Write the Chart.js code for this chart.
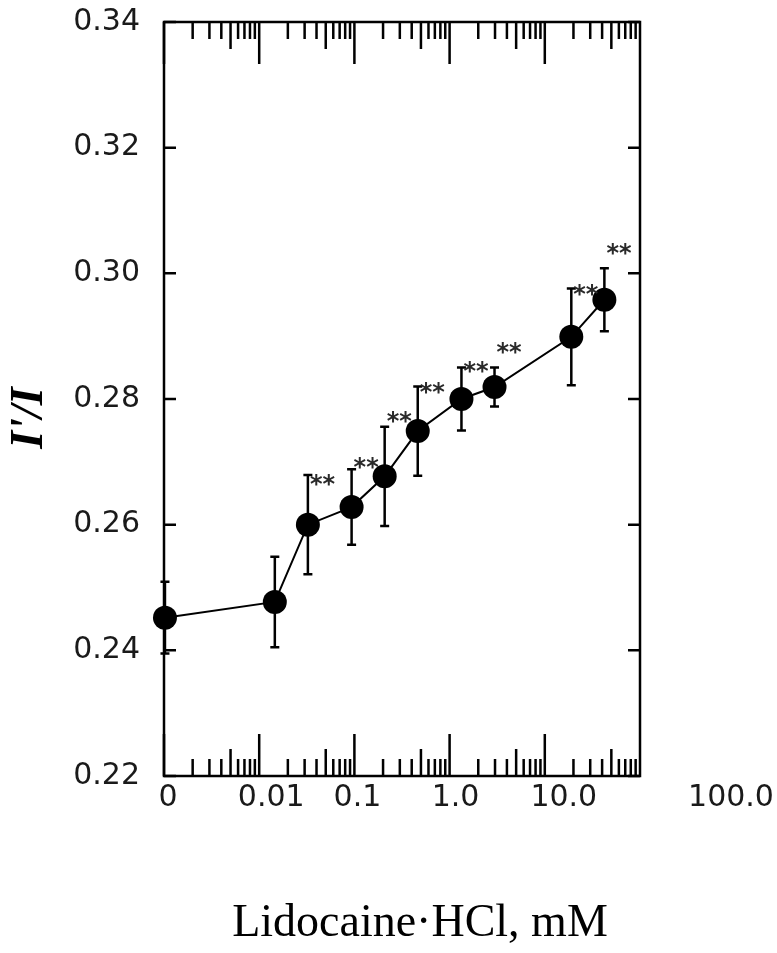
<!DOCTYPE html>
<html>
<head>
<meta charset="utf-8">
<script src="https://cdn.jsdelivr.net/npm/chart.js@4"></script>
<style>
  html, body { margin: 0; padding: 0; background: #fff; }
</style>
</head>
<body>
<canvas id="canvas" width="777" height="953"></canvas>
<script>
"use strict";

// lidocaine concentrations (mM), 0 = control
const conc = [0, 0.01, 0.02, 0.05, 0.1, 0.2, 0.5, 1.0, 5.0, 10.0];
// I'/I ratio (mean) and error
const ratio = [0.2452, 0.2477, 0.2600, 0.2628, 0.2677, 0.2749, 0.2800, 0.2819, 0.2899, 0.2958];
const sd = [0.0057, 0.0072, 0.0079, 0.0060, 0.0079, 0.0071, 0.0050, 0.0031, 0.0077, 0.0050];
// significance marks and the level they sit at
const marks = ['', '', '**', '**', '**', '**', '**', '**', '**', '**'];
const markLevel = [null, null, 0.2672, 0.2698, 0.2771, 0.2818, 0.2851, 0.2881, 0.2974, 0.3039];

// axis ticks
const yTicks = [0.22, 0.24, 0.26, 0.28, 0.30, 0.32, 0.34];
const xTickValues = [0.001, 0.01, 0.1, 1, 10, 100];
const xTickLabels = ['0', '0.01', '0.1', '1.0', '10.0', '100.0'];

// where the control (0 mM) goes on the log axis
const ZERO_AT = 0.001;
// the printed labels are not centred on their ticks in the original
const xLabelNudge = [4, 12, 3, 6, 19, 91];

const plotX = (c) => (c === 0 ? ZERO_AT : c);

const frame = {
  id: 'frame',
  beforeDatasetsDraw(chart) {
    const { ctx, scales } = chart;
    const xs = scales.x, ys = scales.y;
    ctx.save();
    ctx.strokeStyle = '#000';
    ctx.lineWidth = 2.5;
    // error bars
    conc.forEach((c, i) => {
      const px = xs.getPixelForValue(plotX(c));
      const top = ys.getPixelForValue(ratio[i] + sd[i]);
      const bot = ys.getPixelForValue(ratio[i] - sd[i]);
      ctx.beginPath();
      ctx.moveTo(px, top); ctx.lineTo(px, bot);
      ctx.moveTo(px - 4.5, top); ctx.lineTo(px + 4.5, top);
      ctx.moveTo(px - 4.5, bot); ctx.lineTo(px + 4.5, bot);
      ctx.stroke();
    });
    ctx.restore();
  },
  afterDraw(chart) {
    const { ctx, chartArea: a, scales } = chart;
    const xs = scales.x, ys = scales.y, xt = scales.xTicks;
    ctx.save();
    ctx.strokeStyle = '#000';
    ctx.lineWidth = 2.5;
    ctx.strokeRect(a.left, a.top, a.right - a.left, a.bottom - a.top);

    // y ticks, inward on both sides
    ctx.beginPath();
    yTicks.forEach(v => {
      const py = ys.getPixelForValue(v);
      ctx.moveTo(a.left, py); ctx.lineTo(a.left + 12, py);
      ctx.moveTo(a.right, py); ctx.lineTo(a.right - 12, py);
    });
    // log ticks on top and bottom, inward
    for (let e = -3; e <= 1; e++) {
      for (let k = 1; k <= 9; k++) {
        const px = xt.getPixelForValue(k * Math.pow(10, e));
        const len = k === 1 ? 42 : (k === 5 ? 27 : 17);
        ctx.moveTo(px, a.bottom); ctx.lineTo(px, a.bottom - len);
        ctx.moveTo(px, a.top); ctx.lineTo(px, a.top + len);
      }
    }
    ctx.stroke();

    // tick labels
    ctx.fillStyle = '#1a1a1a';
    ctx.font = '30px "DejaVu Sans"';
    ctx.textBaseline = 'middle';
    ctx.textAlign = 'right';
    yTicks.forEach(v => {
      ctx.fillText(v.toFixed(2), a.left - 24, ys.getPixelForValue(v));
    });
    ctx.textAlign = 'center';
    xTickValues.forEach((v, i) => {
      ctx.fillText(xTickLabels[i], xt.getPixelForValue(v) + xLabelNudge[i], a.bottom + 22);
    });

    // significance marks
    ctx.fillStyle = '#2a2a2a';
    ctx.font = 'bold 24px "DejaVu Sans"';
    ctx.textAlign = 'left';
    marks.forEach((m, i) => {
      if (!m) return;
      ctx.fillText(m, xs.getPixelForValue(plotX(conc[i])) + 2, ys.getPixelForValue(markLevel[i]) + 6);
    });

    // axis titles
    ctx.fillStyle = '#000';
    ctx.font = '46px "Liberation Serif"';
    ctx.textAlign = 'center';
    ctx.textBaseline = 'alphabetic';
    ctx.fillText('Lidocaine\u00b7HCl, mM', 420, 936);

    ctx.translate(42, 418);
    ctx.rotate(-Math.PI / 2);
    ctx.font = 'italic bold 46px "Liberation Serif"';
    ctx.fillText("I'/I", 0, 0);
    ctx.restore();
  }
};

const canvas = document.getElementById('canvas');
const ctx = canvas.getContext('2d');

new Chart(ctx, {
  type: 'line',
  data: {
    datasets: [{
      data: conc.map((c, i) => ({ x: plotX(c), y: ratio[i] })),
      borderColor: '#000',
      borderWidth: 2,
      pointRadius: 12,
      pointBackgroundColor: '#000',
      pointBorderColor: '#000',
      pointBorderWidth: 0,
      tension: 0,
      clip: false
    }]
  },
  options: {
    responsive: false,
    animation: false,
    events: [],
    layout: { padding: { left: 164, right: 137, top: 22, bottom: 177 } },
    plugins: { legend: { display: false }, tooltip: { enabled: false } },
    scales: {
      x: { type: 'logarithmic', min: 0.00098, max: 21.1, display: false },
      xTicks: { type: 'logarithmic', axis: 'x', position: 'bottom', min: 0.001, max: 100, display: false },
      y: { type: 'linear', min: 0.22, max: 0.34, display: false }
    }
  },
  plugins: [frame]
});
</script>
</body>
</html>
